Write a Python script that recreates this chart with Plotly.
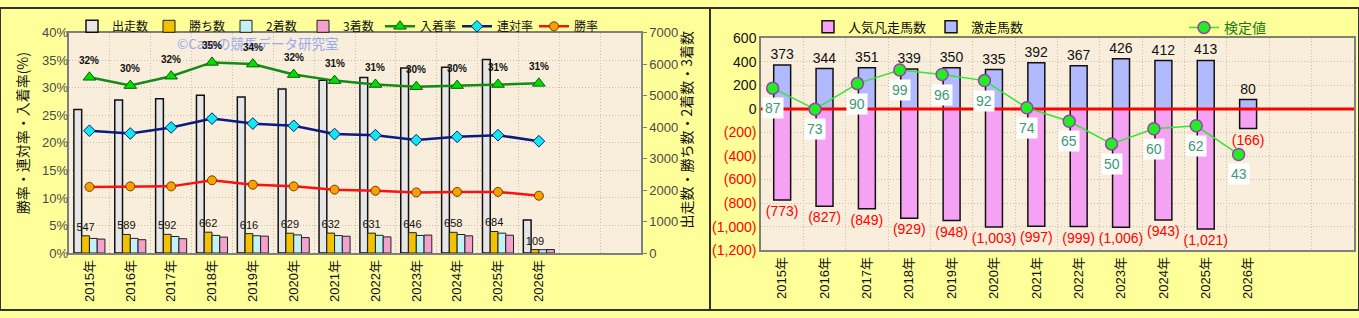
import plotly.graph_objects as go

# ---------------- data ----------------
years = ["2015年", "2016年", "2017年", "2018年", "2019年", "2020年",
         "2021年", "2022年", "2023年", "2024年", "2025年", "2026年"]

# left chart
runs = [4556, 4858, 4898, 5009, 4958, 5211, 5492, 5573, 5875, 5905, 6147, 1047]   # 出走数
wins = [547, 589, 592, 662, 616, 629, 632, 631, 646, 658, 684, 109]                # 勝ち数
seconds = [464, 465, 525, 560, 549, 575, 554, 562, 558, 588, 631, 104]             # 2着数
thirds = [442, 423, 455, 506, 536, 490, 533, 512, 570, 546, 566, 110]              # 3着数
top3_rate = [31.9, 30.4, 32.1, 34.6, 34.3, 32.4, 31.3, 30.6, 30.2, 30.4, 30.6, 30.8]  # 入着率
top2_rate = [22.2, 21.7, 22.8, 24.4, 23.5, 23.1, 21.6, 21.4, 20.5, 21.1, 21.4, 20.3]  # 連対率
win_rate = [12.0, 12.1, 12.1, 13.2, 12.4, 12.1, 11.5, 11.3, 11.0, 11.1, 11.1, 10.4]   # 勝率

# right chart
gekisou = [373, 344, 351, 339, 350, 335, 392, 367, 426, 412, 413, 80]               # 激走馬数
ninki_bonso = [-773, -827, -849, -929, -948, -1003, -997, -999, -1006, -943, -1021, -166]  # 人気凡走馬数
kentei = [87, 73, 90, 99, 96, 92, 74, 65, 50, 60, 62, 43]                           # 検定値

left_ticks_pct = [0, 5, 10, 15, 20, 25, 30, 35, 40]
right_ticks = [-1200, -1000, -800, -600, -400, -200, 0, 200, 400, 600]

# ---------------- layout constants ----------------
W, H = 1359, 318
N_SLOTS = 14
x_range = [-0.5, N_SLOTS - 0.5]
line_shift = 0.224  # 検定値 line drawn slightly left of bar centre (as in reference)
FONT = "Liberation Sans, Arial, Noto Sans CJK JP, sans-serif"
JFONT = "Noto Sans CJK JP, Liberation Sans, sans-serif"

xi = list(range(len(years)))

def px_x(p):
    return p / W

def px_y(p):
    return 1 - p / H

fig = go.Figure()

# ---------- left chart bars (counts axis y) ----------
fig.add_trace(go.Bar(x=xi, y=runs, name="出走数", xaxis="x", yaxis="y",
                     marker=dict(color="#e6e6e6", line=dict(color="#111111", width=1.5)),
                     legend="legend"))
fig.add_trace(go.Bar(x=xi, y=wins, name="勝ち数", xaxis="x", yaxis="y",
                     marker=dict(color="#f2c200", line=dict(color="#222222", width=1)),
                     text=[str(v) for v in wins], textposition="outside",
                     constraintext="none", cliponaxis=False,
                     textfont=dict(size=11, color="#111111", family=FONT),
                     legend="legend"))
fig.add_trace(go.Bar(x=xi, y=seconds, name="2着数", xaxis="x", yaxis="y",
                     marker=dict(color="#c2f2f4", line=dict(color="#222222", width=1)),
                     legend="legend"))
fig.add_trace(go.Bar(x=xi, y=thirds, name="3着数", xaxis="x", yaxis="y",
                     marker=dict(color="#f2a2cc", line=dict(color="#222222", width=1)),
                     legend="legend"))

# ---------- left chart lines (percent axis y2) ----------
fig.add_trace(go.Scatter(x=xi, y=top3_rate, name="入着率", xaxis="x", yaxis="y2",
                         mode="lines+markers",
                         line=dict(color="#158a15", width=2.5),
                         marker=dict(symbol="triangle-up", size=11, color="#00e000",
                                     line=dict(color="#0a5a0a", width=1)),
                         legend="legend"))
fig.add_trace(go.Scatter(x=xi, y=top2_rate, name="連対率", xaxis="x", yaxis="y2",
                         mode="lines+markers",
                         line=dict(color="#0a1a80", width=2.5),
                         marker=dict(symbol="diamond", size=9, color="#10e8f0",
                                     line=dict(color="#0a1a80", width=1)),
                         legend="legend"))
fig.add_trace(go.Scatter(x=xi, y=win_rate, name="勝率", xaxis="x", yaxis="y2",
                         mode="lines+markers",
                         line=dict(color="#ff1010", width=2.5),
                         marker=dict(symbol="circle", size=9, color="#f7a000",
                                     line=dict(color="#7a3d00", width=1)),
                         legend="legend"))

# ---------- right chart bars ----------
fig.add_trace(go.Bar(x=xi, y=ninki_bonso, name="人気凡走馬数", xaxis="x2", yaxis="y3",
                     offsetgroup="r", width=0.4,
                     marker=dict(color="#f6a2f4", line=dict(color="#111111", width=1.5)),
                     text=[f"({abs(v):,})" for v in ninki_bonso], textposition="outside",
                     constraintext="none", cliponaxis=False,
                     textfont=dict(size=14, color="#ff0000", family=FONT),
                     legend="legend2"))
fig.add_trace(go.Bar(x=xi, y=gekisou, name="激走馬数", xaxis="x2", yaxis="y3",
                     offsetgroup="r", width=0.4,
                     marker=dict(color="#b2baff", line=dict(color="#111111", width=1.5)),
                     text=[str(v) for v in gekisou], textposition="outside",
                     constraintext="none", cliponaxis=False,
                     textfont=dict(size=14, color="#111111", family=FONT),
                     legend="legend2"))
# zero reference line (red), above bars, below the 検定値 line
fig.add_trace(go.Scatter(x=x_range, y=[0, 0], xaxis="x2", yaxis="y3", mode="lines",
                         line=dict(color="#ff0000", width=3), showlegend=False,
                         hoverinfo="skip"))
# 検定値 line on hidden axes
fig.add_trace(go.Scatter(x=xi, y=kentei, name="検定値", xaxis="x3", yaxis="y4",
                         mode="lines+markers",
                         line=dict(color="#33e633", width=1.5),
                         marker=dict(symbol="circle", size=12, color="#22ee22",
                                     line=dict(color="#9b3fb0", width=1.5)),
                         legend="legend3"))

annotations = []
# watermark (drawn first so labels sit on top)
annotations.append(dict(x=px_x(258), y=px_y(37), xref="paper", yref="paper",
                        xanchor="center", yanchor="middle",
                        text="©Cassの競馬データ研究室", showarrow=False,
                        font=dict(size=13.5, color="#9aa8f2", family=JFONT)))
# 入着率 labels
for x, v in zip(xi, top3_rate):
    annotations.append(dict(x=x, y=v, xref="x", yref="y2", text=f"<b>{v:.0f}%</b>",
                            showarrow=False, yshift=17,
                            font=dict(size=10, color="#111111", family=FONT)))
# 検定値 labels
for x, v in zip(xi, kentei):
    annotations.append(dict(x=x, y=v, xref="x3", yref="y4", text=str(v),
                            showarrow=False, yshift=-20, bgcolor="#ffffff",
                            borderpad=2,
                            font=dict(size=14, color="#3a9a72", family=FONT)))
# axis titles
annotations.append(dict(x=px_x(22), y=px_y(132), xref="paper", yref="paper",
                        xanchor="center", yanchor="middle",
                        text="勝率・連対率・入着率(%)", textangle=-90, showarrow=False,
                        font=dict(size=14, color="#111111", family=JFONT)))
annotations.append(dict(x=px_x(686), y=px_y(128), xref="paper", yref="paper",
                        xanchor="center", yanchor="middle",
                        text="出走数・勝ち数・2着数・3着数", textangle=-90, showarrow=False,
                        font=dict(size=14, color="#111111", family=JFONT)))

def right_tick_text(v):
    if v < 0:
        return f"<span style='color:#ff0000'>({abs(v):,})</span>"
    return f"{v:,}"

grid_col = "#c9c0aa"
grid_dash = "1px,2px"
axis_col = "#7f7f7f"

fig.update_layout(
    width=W, height=H, autosize=False,
    margin=dict(l=0, r=0, t=0, b=0),
    paper_bgcolor="#ffff99",
    plot_bgcolor="#f8eedb",
    barmode="group", bargap=0.24, bargroupgap=0,
    font=dict(family=FONT, size=13, color="#111111"),
    showlegend=True,
    xaxis=dict(domain=[px_x(69), px_x(641)], range=x_range, anchor="y",
               tickmode="array", tickvals=xi, ticktext=years, tickangle=-90,
               tickfont=dict(size=13, color="#111111", family=FONT),
               showgrid=False, zeroline=False, ticks="",
               minor=dict(tickmode="linear", tick0=-0.5, dtick=1, showgrid=True,
                          gridcolor=grid_col, griddash=grid_dash, gridwidth=1, ticks=""),
               showline=True, mirror=True, linecolor=axis_col, linewidth=1.5),
    yaxis=dict(domain=[px_y(258), px_y(26)], range=[0, 7000], anchor="x", side="right",
               dtick=1000, tick0=0, showgrid=False, zeroline=False,
               ticks="outside", ticklen=4, tickcolor=axis_col,
               tickfont=dict(size=13, color="#4a4a4a"),
               showline=True, mirror=True, linecolor=axis_col, linewidth=1.5),
    yaxis2=dict(overlaying="y", side="left", range=[0, 40], anchor="x",
                tickmode="array", tickvals=left_ticks_pct,
                ticktext=[f"{v}%" for v in left_ticks_pct],
                showgrid=True, gridcolor=grid_col, griddash=grid_dash, zeroline=False,
                tickfont=dict(size=13, color="#4a4a4a")),
    xaxis2=dict(domain=[px_x(761), px_x(1354)], range=x_range, anchor="y3",
                tickmode="array", tickvals=xi, ticktext=years, tickangle=-90,
                tickfont=dict(size=13, color="#111111", family=FONT),
                showgrid=False, zeroline=False, ticks="",
                minor=dict(tickmode="linear", tick0=-0.5, dtick=1, showgrid=True,
                           gridcolor=grid_col, griddash=grid_dash, gridwidth=1, ticks=""),
                showline=True, mirror=True, linecolor=axis_col, linewidth=1.5),
    yaxis3=dict(domain=[px_y(255), px_y(32)], range=[-1200, 600], anchor="x2",
                tickmode="array", tickvals=right_ticks,
                ticktext=[right_tick_text(v) for v in right_ticks],
                tickfont=dict(size=14, color="#111111"),
                showgrid=True, gridcolor=grid_col, griddash=grid_dash, zeroline=False,
                showline=True, mirror=True, linecolor=axis_col, linewidth=1.5),
    xaxis3=dict(overlaying="x2", range=[x_range[0] + line_shift, x_range[1] + line_shift],
                anchor="y4", visible=False),
    yaxis4=dict(overlaying="y3", range=[-20.5, 120], anchor="x3", visible=False),
    legend=dict(orientation="h", x=px_x(72), y=px_y(4), xanchor="left", yanchor="top",
                bgcolor="rgba(0,0,0,0)", font=dict(size=12, family=JFONT),
                itemwidth=30, tracegroupgap=0, entrywidth=32, entrywidthmode="pixels"),
    legend2=dict(orientation="h", x=px_x(808), y=px_y(4), xanchor="left", yanchor="top",
                 bgcolor="rgba(0,0,0,0)", font=dict(size=13, family=JFONT),
                 itemwidth=30, traceorder="normal"),
    legend3=dict(orientation="h", x=px_x(1184), y=px_y(4), xanchor="left", yanchor="top",
                 bgcolor="rgba(0,0,0,0)", font=dict(size=14, color="#1a7a1a", family=JFONT),
                 itemwidth=30),
    annotations=annotations,
    shapes=[
        dict(type="rect", xref="paper", yref="paper", x0=0, x1=1, y0=0, y1=1,
             line=dict(color="#333333", width=2), layer="above"),
        dict(type="line", xref="paper", yref="paper", x0=px_x(710), x1=px_x(710),
             y0=0, y1=1, line=dict(color="#333333", width=2), layer="above"),
    ],
)

fig.write_html("out.html")
